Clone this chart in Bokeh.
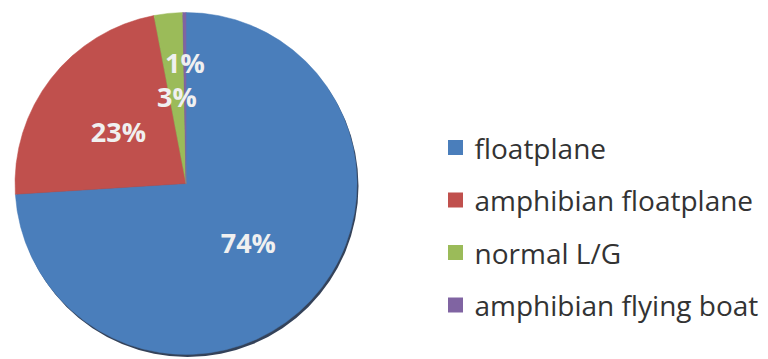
import numpy as np
from bokeh.plotting import figure
from bokeh.models import Range1d, ColumnDataSource
from bokeh.core.properties import value
from bokeh.embed import file_html
from bokeh.resources import INLINE

# ---- data ----
categories = ["floatplane", "amphibian floatplane", "normal L/G", "amphibian flying boat"]
shares = [74.0, 23.0, 2.7, 0.3]
pct_labels = ["74%", "23%", "3%", "1%"]
colors = ["#4a7ebb", "#c0504d", "#9bbb59", "#8064a2"]

# ---- layout / style ----
W, H = 768, 359
cx, cy, r = 185.5, H - 183, 171
label_r = [0.50, 0.50, 0.51, 0.71]
FONT = "Open Sans"

vals = np.array(shares, dtype=float)
frac = vals / vals.sum()
cum = np.concatenate([[0.0], np.cumsum(frac)])
start = np.pi / 2 - 2 * np.pi * cum[:-1]
end = np.pi / 2 - 2 * np.pi * cum[1:]
mid = (start + end) / 2
lr = np.array(label_r) * r

src = ColumnDataSource(dict(
    start=start, end=end, color=colors, cat=categories,
    lx=cx + lr * np.cos(mid), ly=cy + lr * np.sin(mid), lab=pct_labels,
))

p = figure(width=W, height=H, x_range=Range1d(0, W), y_range=Range1d(0, H),
           output_backend="svg", toolbar_location=None, min_border=0)
p.axis.visible = False
p.grid.visible = False
p.outline_line_color = None
p.background_fill_color = "white"
p.border_fill_color = "white"

# shadow
p.circle(x=[cx + 1.5], y=[cy - 2.5], radius=r, fill_color="#1e2d47", line_color=None, fill_alpha=0.9)

p.wedge(x=cx, y=cy, radius=r, start_angle="start", end_angle="end", direction="clock",
        fill_color="color", line_color="color", line_width=0.5, source=src)

p.text(x="lx", y="ly", text="lab", source=src, text_align="center", text_baseline="middle",
       text_font=value(FONT), text_font_style="bold", text_font_size="27px", text_color="#f0f0f0")

# legend
n = len(categories)
ly0, step = H - 147, 52.5
leg = ColumnDataSource(dict(
    y=[ly0 - i * step for i in range(n)], color=colors, cat=categories,
))
p.rect(x=455, y="y", width=15, height=15, fill_color="color", line_color=None, source=leg)
p.text(x=474, y="y", text="cat", source=leg, text_align="left", text_baseline="middle",
       text_font=value(FONT), text_font_size="28px", text_color="#333333")

open("out.html", "w").write(file_html(p, INLINE))
